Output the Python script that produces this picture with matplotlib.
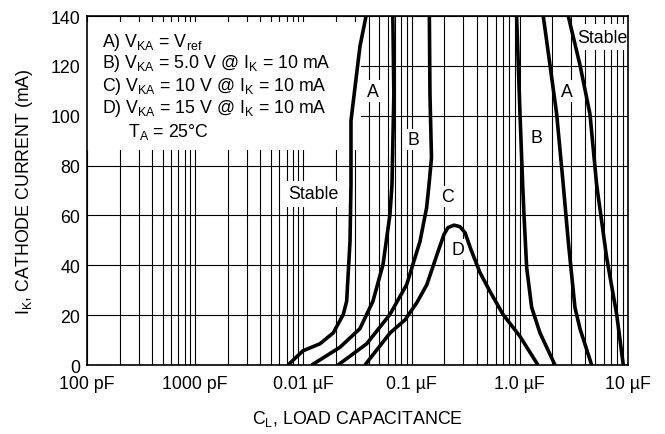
import numpy as np
import matplotlib
matplotlib.use('Agg')
import matplotlib.pyplot as plt
from matplotlib.patches import Rectangle

# ---------------- data (C in uF, Ik in mA) ----------------
capA_left = [0.00721, 0.00991, 0.01422, 0.01888, 0.02339, 0.02512, 0.02698, 0.02754, 0.02754, 0.03334, 0.03795]
ikA_left = [0, 5.7, 8.5, 12.9, 20.3, 25.6, 49.6, 72.3, 98.0, 127.8, 140]

capB_left = [0.01194, 0.02178, 0.03334, 0.04395, 0.05445, 0.0631, 0.0659, 0.0686, 0.0671]
ikB_left = [0, 7.1, 14.6, 25.6, 40.3, 60.3, 72.3, 108.8, 140]

capC_left = [0.0209, 0.03846, 0.0631, 0.0902, 0.1197, 0.1377, 0.1449, 0.1528, 0.1479, 0.1460]
ikC_left = [0, 8.5, 20.3, 32.3, 49.6, 63.1, 72.3, 83.1, 108.6, 140]

capD = [0.0371, 0.0631, 0.0869, 0.1122, 0.1386, 0.1718, 0.1991, 0.2167, 0.2466,
        0.2799, 0.3119, 0.354, 0.4285, 0.5309, 0.700, 1.004, 1.472]
ikD = [0, 12.8, 18.1, 25.1, 32.3, 44.3, 52.3, 55.1, 56.1,
       55.5, 53.1, 46.3, 37.1, 29.5, 20.3, 11.5, 0]

capC_right = [0.935, 1.005, 1.064, 1.094, 1.158, 1.288, 1.537, 2.115]
ikC_right = [140, 100.7, 72.3, 60.3, 39.1, 23.1, 12.9, 0]

capB_right = [1.648, 1.901, 2.193, 2.523, 2.807, 3.236, 3.600, 4.616]
ikB_right = [140, 120.4, 100.7, 72.3, 49.6, 23.1, 14.6, 0]

capA_right = [2.807, 3.600, 4.454, 5.135, 6.355, 7.866, 9.05]
ikA_right = [140, 120.4, 100.7, 72.3, 43.1, 20.3, 0]

xtick_vals = [1e-4, 1e-3, 1e-2, 1e-1, 1, 10]
xtick_labels = ['100 pF', '1000 pF', '0.01 \u00b5F', '0.1 \u00b5F', '1.0 \u00b5F', '10 \u00b5F']
ytick_vals = [0, 20, 40, 60, 80, 100, 120, 140]

# nhan tren duong cong: (text, C, Ik)
curve_labels = [('A', 0.0443, 109.9), ('B', 0.1038, 90.5), ('C', 0.2138, 67.6),
                ('D', 0.2667, 46.3), ('B', 1.432, 91.2), ('A', 2.71, 109.9)]
stable_labels = [('Stable', 0.01228, 68.7), ('Stable', 5.75, 131.5)]

legend_lines = ['A) V$_{\\mathregular{KA}}$ = V$_{\\mathregular{ref}}$',
                'B) V$_{\\mathregular{KA}}$ = 5.0 V @ I$_{\\mathregular{K}}$ = 10 mA',
                'C) V$_{\\mathregular{KA}}$ = 10 V @ I$_{\\mathregular{K}}$ = 10 mA',
                'D) V$_{\\mathregular{KA}}$ = 15 V @ I$_{\\mathregular{K}}$ = 10 mA',
                'T$_{\\mathregular{A}}$ = 25\u00b0C']

# ---------------- style ----------------
plt.rcParams['font.family'] = ['Liberation Sans', 'DejaVu Sans']
plt.rcParams['mathtext.fontset'] = 'custom'
plt.rcParams['mathtext.rm'] = 'Liberation Sans'
plt.rcParams['mathtext.it'] = 'Liberation Sans'
plt.rcParams['font.size'] = 12.8

fig = plt.figure(figsize=(6.65, 4.35), dpi=100)
ax = fig.add_axes([0.1308, 0.1586, 0.8135, 0.8023])

ax.set_xscale('log')
ax.set_xlim(1e-4, 10)
ax.set_ylim(0, 140)
ax.set_xticks(xtick_vals)
ax.set_xticklabels(xtick_labels)
ax.xaxis.set_minor_formatter(matplotlib.ticker.NullFormatter())
ax.set_yticks(ytick_vals)
ax.tick_params(which='both', length=0)
ax.tick_params(axis='x', pad=7)
ax.tick_params(axis='y', pad=5)

ax.set_axisbelow(True)
ax.grid(True, axis='x', which='both', color='black', lw=0.8)
ax.grid(True, axis='y', which='major', color='black', lw=0.8)
for s in ax.spines.values():
    s.set_linewidth(1.2)
    s.set_zorder(5)

# nen trang cho khung chu thich
ax.add_patch(Rectangle((0.0, 0.616), 0.506, 0.367, transform=ax.transAxes,
                       fc='white', ec='none', zorder=2))

curves = [(capA_left, ikA_left), (capB_left, ikB_left), (capC_left, ikC_left),
          (capD, ikD), (capC_right, ikC_right), (capB_right, ikB_right),
          (capA_right, ikA_right)]
for cx, cy in curves:
    ax.plot(cx, cy, color='black', lw=2.6, solid_joinstyle='round',
            solid_capstyle='butt', zorder=3, clip_on=True)

for t, cx, cy in curve_labels:
    ax.text(cx, cy, t, ha='center', va='center', zorder=2.5,
            bbox=dict(boxstyle='square,pad=0.12', fc='white', ec='none'))
for t, cx, cy in stable_labels:
    ax.text(cx, cy, t, ha='center', va='center', zorder=2.5,
            bbox=dict(boxstyle='square,pad=0.25', fc='white', ec='none'))

legend_y = [0.928, 0.868, 0.800, 0.739, 0.671]
for i, t in enumerate(legend_lines):
    lx = 0.076 if i == 4 else 0.028
    ax.text(lx, legend_y[i], t, transform=ax.transAxes, ha='left', va='center', zorder=4)

ax.set_xlabel('C$_{\\mathregular{L}}$, LOAD CAPACITANCE', labelpad=12)
ax.set_ylabel('I$_{\\mathregular{K}}$, CATHODE CURRENT (mA)', labelpad=11)

fig.savefig('out.png', dpi=100)
